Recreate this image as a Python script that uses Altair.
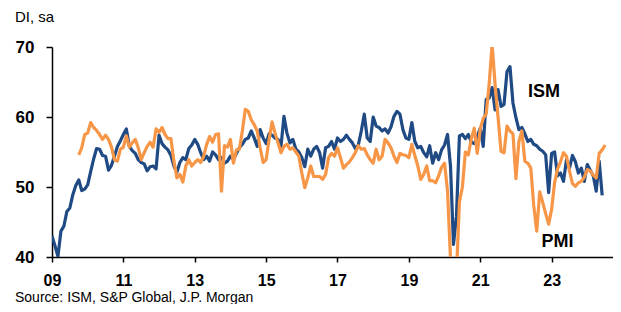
import altair as alt
import pandas as pd

# Monthly values (DI, sa)
ism_start = 2009.0            # Jan 2009
ism_values = [
    43.0, 41.6, 40.1, 43.7, 44.4, 46.5, 47.0, 48.9, 50.2, 51.0, 49.5, 49.7,   # 2009
    50.3, 52.2, 54.0, 55.5, 55.4, 54.5, 54.4, 52.4, 53.1, 54.4, 55.8, 56.6,   # 2010
    57.5, 58.3, 55.8, 55.2, 54.8, 53.9, 53.5, 53.3, 52.3, 52.9, 53.0, 52.6,   # 2011
    57.4, 56.2, 55.7, 55.3, 54.5, 53.0, 52.1, 53.5, 54.2, 53.9, 55.5, 56.0,   # 2012
    56.8, 56.1, 54.9, 53.9, 54.4, 53.7, 55.0, 54.6, 53.9, 54.2, 53.4, 53.7,   # 2013
    54.4, 53.9, 54.8, 55.6, 56.1, 56.8, 57.0, 58.0, 57.0, 55.8, 58.2, 57.0,   # 2014
    56.2, 57.6, 57.4, 57.0, 56.8, 55.8, 60.1, 57.7, 56.3, 56.8, 55.4, 55.0,   # 2015
    54.2, 52.9, 55.4, 54.4, 55.4, 55.8, 54.9, 52.7, 55.6, 55.8, 56.5, 55.4,   # 2016
    57.0, 56.5, 56.8, 57.4, 56.8, 56.3, 55.5, 56.0, 58.0, 60.4, 57.0, 56.5,   # 2017
    60.0, 58.7, 58.5, 58.0, 58.3, 57.7, 58.6, 60.1, 60.8, 60.4, 58.2, 57.0,   # 2018
    56.8, 59.2, 56.5, 55.6, 55.8, 54.9, 54.3, 55.9, 53.4, 54.9, 53.9, 55.3,   # 2019
    56.0, 57.5, 53.0, 41.8, 45.8, 57.3, 57.5, 56.9, 57.5, 56.4, 56.2, 57.2,   # 2020
    58.4, 55.8, 62.5, 62.7, 64.2, 61.0, 63.9, 61.5, 61.8, 66.5, 67.2, 62.0,   # 2021
    59.9, 58.2, 58.5, 57.6, 56.5, 56.8, 56.1, 55.9, 55.4, 55.1, 54.6, 49.2,   # 2022
    54.8, 55.0, 51.6, 52.0, 50.8, 53.9, 52.7, 54.5, 53.6, 52.0, 52.7, 50.8,   # 2023
    53.2, 52.4, 51.6, 49.4, 53.7, 48.8,                                       # 2024
]

pmi_start = 2009.0 + 9 / 12   # Oct 2009
pmi_values = [
    54.6, 55.6, 57.5,                                                         # 2009
    57.7, 59.2, 58.5, 58.1, 57.5, 56.8, 57.4, 56.8, 55.7, 53.9, 53.7, 55.4,   # 2010
    55.7, 57.3, 55.7, 56.3, 56.8, 55.6, 53.9, 54.9, 55.8, 56.4, 55.7, 58.3,   # 2011
    57.8, 58.5, 57.5, 56.9, 56.9, 53.7, 51.3, 51.8, 50.7, 53.0, 53.9, 53.0,   # 2012
    53.5, 53.9, 53.5, 54.4, 56.1, 57.2, 56.4, 57.5, 57.6, 49.4, 55.9, 55.7,   # 2013
    56.8, 53.4, 55.3, 55.4, 58.0, 61.1, 60.8, 59.6, 58.9, 58.0, 55.6, 53.5,   # 2014
    53.9, 56.8, 59.3, 57.7, 56.3, 54.9, 55.8, 56.1, 55.4, 55.6, 55.0, 54.4,   # 2015
    52.0, 49.9, 51.3, 53.0, 51.5, 51.5, 51.5, 51.1, 51.8, 54.2, 54.8, 54.4,   # 2016
    55.6, 54.2, 52.7, 53.2, 53.6, 54.2, 54.9, 55.9, 55.4, 55.5, 54.6, 53.9,   # 2017
    53.4, 55.4, 53.9, 54.4, 56.8, 56.3, 55.6, 54.4, 53.5, 54.8, 54.6, 54.5,   # 2018
    54.2, 56.1, 54.5, 53.0, 51.1, 51.8, 53.0, 50.9, 50.9, 50.6, 51.6, 52.8,   # 2019
    53.4, 49.4, 39.8, 26.7, 37.5, 47.9, 50.0, 55.0, 54.6, 56.9, 58.4, 54.8,   # 2020
    58.3, 59.8, 60.4, 64.7, 70.4, 64.6, 59.9, 55.1, 54.9, 58.7, 58.0, 57.6,   # 2021
    51.2, 56.5, 58.0, 53.7, 53.4, 52.7, 47.3, 43.7, 49.3, 47.8, 46.2, 44.7,   # 2022
    46.8, 50.6, 52.6, 53.6, 54.9, 54.4, 52.3, 50.5, 50.1, 50.6, 50.8, 51.4,   # 2023
    52.5, 52.3, 51.7, 51.3, 54.8, 55.3, 56.0,                                 # 2024
]

year_ticks = list(range(2009, 2025))
y_ticks = [40, 50, 60, 70]

BLUE = "#1f4a84"
ORANGE = "#f79646"
NARROW = "'Liberation Sans Narrow', 'Arial Narrow', 'Liberation Sans', Arial, sans-serif"
SANS = "'Liberation Sans', Arial, sans-serif"

ism_df = pd.DataFrame({"t": [ism_start + i / 12 for i in range(len(ism_values))],
                       "v": ism_values})
pmi_df = pd.DataFrame({"t": [pmi_start + i / 12 for i in range(len(pmi_values))],
                       "v": pmi_values})

x_enc = alt.X(
    "t:Q",
    scale=alt.Scale(domain=[2009, 2024.72], nice=False, zero=False),
    axis=alt.Axis(
        values=year_ticks,
        labelExpr="datum.value % 2 == 1 ? slice('0' + (datum.value - 2000), -2) : ''",
        title=None, grid=False, tickSize=5, labelPadding=10,
        labelFont=NARROW, labelFontSize=16, labelFontWeight="bold",
        labelColor="black", domainColor="black", tickColor="black",
        domainWidth=1.5, tickWidth=1.5, labelFlush=False, labelOverlap=False,
    ),
)
y_enc = alt.Y(
    "v:Q",
    scale=alt.Scale(domain=[40, 70], nice=False, zero=False),
    axis=alt.Axis(
        values=y_ticks, title=None, grid=False, tickSize=6, labelPadding=12,
        labelFont=NARROW, labelFontSize=17, labelFontWeight="bold",
        labelColor="black", domainColor="black", tickColor="black",
        domainWidth=1.5, tickWidth=1.5,
    ),
)

ism_line = alt.Chart(ism_df).mark_line(
    color=BLUE, strokeWidth=3.2, clip=True, strokeJoin="round"
).encode(x=x_enc, y=y_enc)

pmi_line = alt.Chart(pmi_df).mark_line(
    color=ORANGE, strokeWidth=3.2, clip=True, strokeJoin="round"
).encode(x="t:Q", y="v:Q")

ism_label = alt.Chart(pd.DataFrame({"s": ["ISM"]})).mark_text(
    font=NARROW, fontSize=18, fontWeight="bold", color="black",
    align="center", baseline="middle"
).encode(text="s:N", x=alt.value(492), y=alt.value(44.5))

pmi_label = alt.Chart(pd.DataFrame({"s": ["PMI"]})).mark_text(
    font=NARROW, fontSize=18, fontWeight="bold", color="black",
    align="center", baseline="middle"
).encode(text="s:N", x=alt.value(505.5), y=alt.value(194.5))

unit_label = alt.Chart(pd.DataFrame({"s": ["DI, sa"]})).mark_text(
    font=SANS, fontSize=15, color="black", align="left", baseline="alphabetic"
).encode(text="s:N", x=alt.value(-37), y=alt.value(-25))

source_label = alt.Chart(pd.DataFrame({"s": ["Source: ISM, S&P Global, J.P. Morgan"]})).mark_text(
    font=SANS, fontSize=14, color="black", align="left", baseline="alphabetic"
).encode(text="s:N", x=alt.value(-37), y=alt.value(254.5))

chart = alt.layer(
    ism_line, pmi_line, ism_label, pmi_label, unit_label, source_label
).properties(
    width=561, height=210,
    padding={"left": 44, "top": 39, "right": 0, "bottom": 47},
    autosize=alt.AutoSizeParams(type="none"),
    background="white",
).configure_view(stroke=None)

chart.save("out.html", embed_options={"renderer": "svg", "actions": False})
